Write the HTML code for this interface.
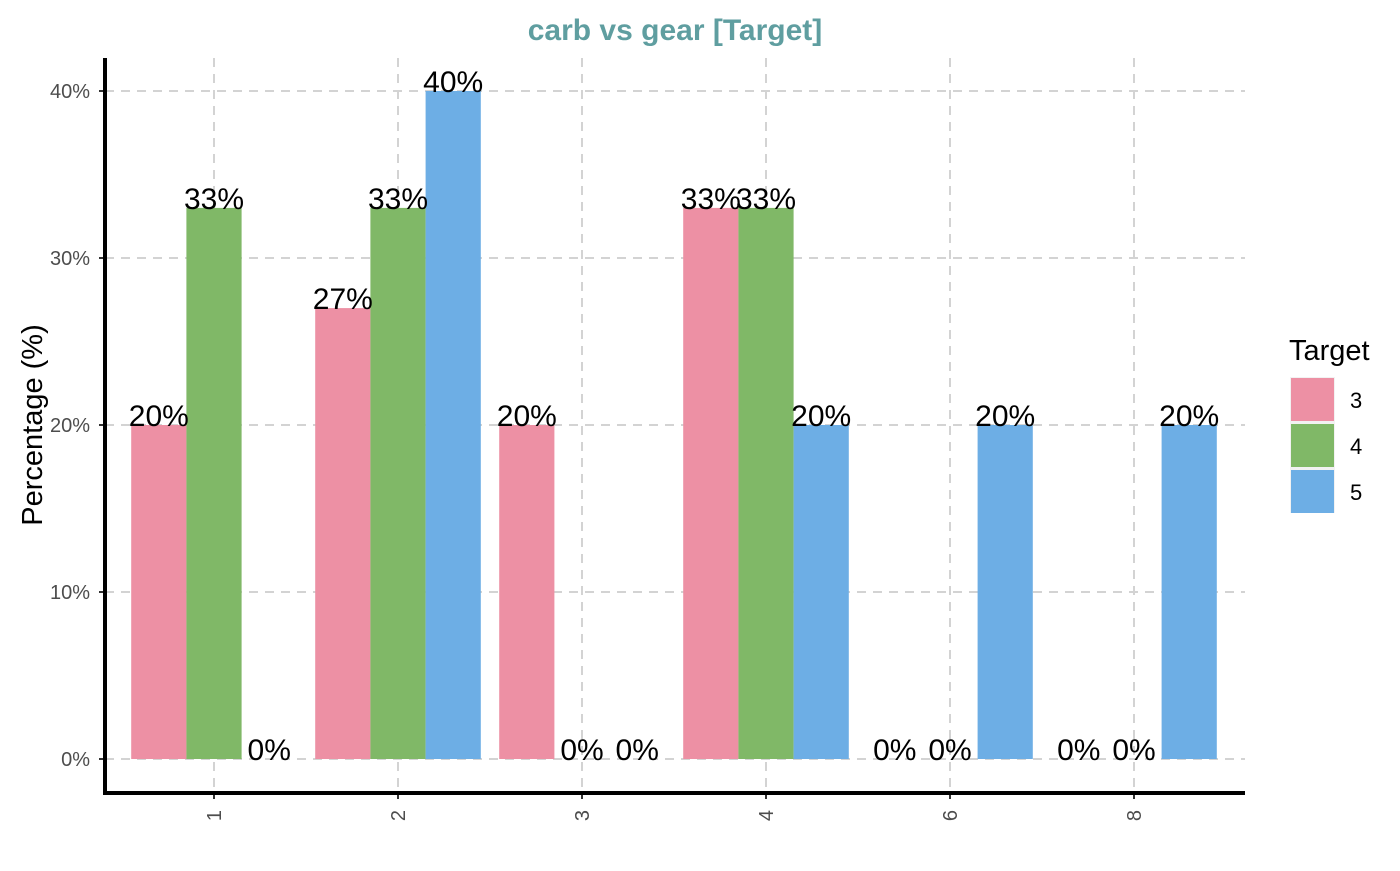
<!DOCTYPE html>
<html><head><meta charset="utf-8"><style>
body{margin:0;background:#fff;}
svg text{font-family:"Liberation Sans",Arial,sans-serif;}
</style></head><body>
<svg width="1400" height="866" xmlns="http://www.w3.org/2000/svg" id="chart">
<text x="675" y="40" text-anchor="middle" font-size="30" font-weight="bold" fill="#5f9ea0">carb vs gear [Target]</text>
<text transform="translate(42,425) rotate(-90)" text-anchor="middle" font-size="29" fill="#000">Percentage (%)</text>
<g id="grid"></g>
<g id="bars"></g>
<g id="labels"></g>
<g id="axes"></g>
<g>
<text x="1289" y="360" font-size="29" fill="#000">Target</text>
<rect x="1290" y="377" width="45" height="136" fill="#f2f2f2"/>
<rect x="1291" y="378" width="43" height="43" fill="#ED90A4"/>
<rect x="1291" y="424" width="43" height="43" fill="#80B867"/>
<rect x="1291" y="470" width="43" height="43" fill="#6DAEE5"/>
<text x="1350" y="408" font-size="22">3</text>
<text x="1350" y="454" font-size="22">4</text>
<text x="1350" y="500" font-size="22">5</text>
</g>
</svg>
<script>
const categories=["1","2","3","4","6","8"];
const series3=[20,27,20,33,0,0];
const series4=[33,33,0,33,0,0];
const series5=[0,40,0,20,20,20];
const seriesLabels3=["20%","27%","20%","33%","0%","0%"];
const seriesLabels4=["33%","33%","0%","33%","0%","0%"];
const seriesLabels5=["0%","40%","0%","20%","20%","20%"];
const yTicks=[0,10,20,30,40];
const yTickLabels=["0%","10%","20%","30%","40%"];
const colors=["#ED90A4","#80B867","#6DAEE5"];
const NS="http://www.w3.org/2000/svg";
const x0=105,x1=1245;
function xScale(i){return 214+i*184;}
function yScale(v){return 759-v*(759-91)/40;}
const bw=184*0.9/3;
function mk(tag,attrs,parent){const e=document.createElementNS(NS,tag);for(const k in attrs)e.setAttribute(k,attrs[k]);document.getElementById(parent).appendChild(e);return e;}
yTicks.forEach((t,i)=>{
 const g=mk('line',{x1:x0,x2:x1,y1:yScale(t),y2:yScale(t),stroke:'#d3d3d3','stroke-width':2,'stroke-dasharray':'9,7'},'grid');
 
 
 const tk=mk('line',{x1:x0-6,x2:x0,y1:yScale(t),y2:yScale(t),stroke:'#333','stroke-width':2},'axes');
 
 
 const tx=mk('text',{x:x0-15,y:yScale(t)+7,'text-anchor':'end','font-size':20,fill:'#4d4d4d'},'axes');
 tx.textContent=yTickLabels[i];
 
 
});
categories.forEach((c,i)=>{
 const g=mk('line',{x1:xScale(i),x2:xScale(i),y1:58,y2:793,stroke:'#d3d3d3','stroke-width':2,'stroke-dasharray':'9,7'},'grid');
 
 
 const tk=mk('line',{x1:xScale(i),x2:xScale(i),y1:793,y2:799,stroke:'#333','stroke-width':2},'axes');
 
 
 const tx=mk('text',{transform:`translate(${xScale(i)+7},810) rotate(-90)`,'text-anchor':'end','font-size':20,fill:'#4d4d4d'},'axes');
 tx.textContent=c;
 
 
});
const all=[series3,series4,series5];
const allLabels=[seriesLabels3,seriesLabels4,seriesLabels5];
all.forEach((s,j)=>{
 s.forEach((v,i)=>{
  const left=xScale(i)-1.5*bw+j*bw;
  if(v>0){
   const r=mk('rect',{x:left,y:yScale(v),width:bw,height:yScale(0)-yScale(v),fill:colors[j]},'bars');
   
   
  }
  const t=mk('text',{x:left+bw/2,y:yScale(v)+1,'text-anchor':'middle','font-size':30,fill:'#000'},'labels');
  t.textContent=allLabels[j][i];
  
  
 });
});
const ya=mk('line',{x1:x0,x2:x0,y1:58,y2:795,stroke:'#000','stroke-width':4},'axes');


const xa=mk('line',{x1:x0-2,x2:x1,y1:793,y2:793,stroke:'#000','stroke-width':4},'axes');


</script>
</body></html>
